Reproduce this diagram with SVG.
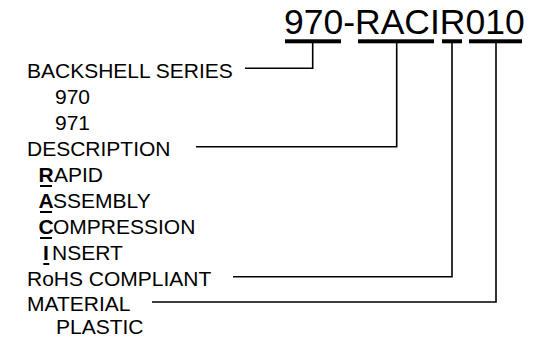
<svg xmlns="http://www.w3.org/2000/svg" width="541" height="338" viewBox="0 0 541 338">
<style>
text{font-family:"Liberation Sans",Arial,sans-serif;fill:#000}
.lbl{font-size:21px}
.title{font-size:35.5px}
.b{font-weight:bold}
.bar{fill:#000}
.conn{fill:none;stroke:#000;stroke-width:1.6}
.ul{stroke:#000;stroke-width:2}
</style>
<rect width="541" height="338" fill="#fff"/>
<g id="part-number">
<text class="title" x="284" y="33.5">970-RACIR010</text>
<rect class="bar" x="285" y="39.3" width="56" height="4"/>
<rect class="bar" x="358" y="39.3" width="76" height="4"/>
<rect class="bar" x="442" y="39.3" width="20" height="4"/>
<rect class="bar" x="469" y="39.3" width="53" height="4"/>
</g>
<g id="backshell-series">
<text class="lbl" x="27" y="77.5">BACKSHELL SERIES</text>
<text class="lbl" x="55" y="103.5">970</text>
<text class="lbl" x="55" y="129.5">971</text>
</g>
<g id="description">
<text class="lbl" x="27" y="155.5">DESCRIPTION</text>
<text class="lbl b" x="46" y="181.5" text-anchor="middle">R</text>
<text class="lbl" x="54" y="181.5">APID</text>
<line class="ul" x1="40" y1="186" x2="52" y2="186"/>
<text class="lbl b" x="46" y="207.5" text-anchor="middle">A</text>
<text class="lbl" x="53" y="207.5">SSEMBLY</text>
<line class="ul" x1="40" y1="212" x2="52" y2="212"/>
<text class="lbl b" x="46" y="233.5" text-anchor="middle">C</text>
<text class="lbl" x="53" y="233.5">OMPRESSION</text>
<line class="ul" x1="40" y1="238" x2="52" y2="238"/>
<text class="lbl b" x="46" y="259.5" text-anchor="middle">I</text>
<text class="lbl" x="52" y="259.5">NSERT</text>
<line class="ul" x1="43.3" y1="264" x2="49.3" y2="264"/>
</g>
<g id="rohs">
<text class="lbl" x="27" y="285.5">RoHS COMPLIANT</text>
</g>
<g id="material">
<text class="lbl" x="27" y="310.5">MATERIAL</text>
<text class="lbl" x="56" y="333.5">PLASTIC</text>
</g>
<g id="connectors">
<path class="conn" d="M312.7 43 V68.3 H245"/>
<path class="conn" d="M396.7 43 V146.7 H196"/>
<path class="conn" d="M452 43 V276.7 H233"/>
<path class="conn" d="M496 43 V302 H152"/>
</g>
</svg>
